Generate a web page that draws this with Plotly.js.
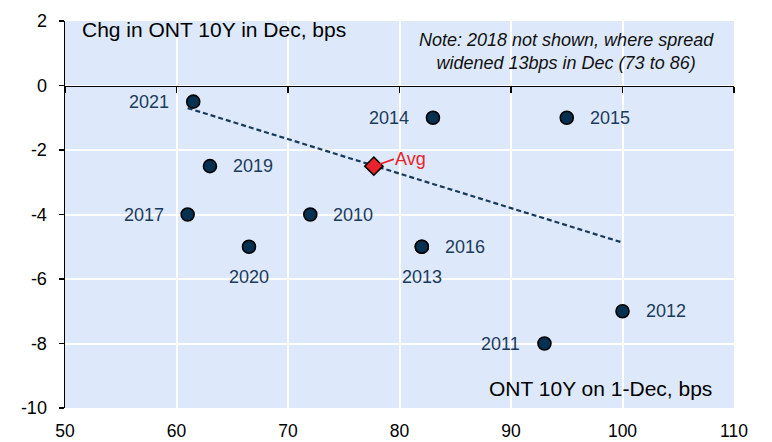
<!DOCTYPE html>
<html>
<head>
<meta charset="utf-8">
<script src="https://cdn.plot.ly/plotly-3.0.1.min.js"></script>
<style>html,body{margin:0;padding:0;background:#fff;}#chart{width:772px;height:442px;}</style>
</head>
<body>
<div id="chart"></div>
<script>
// ---- data ----
const years = ['2021', '2014', '2015', '2019', '2017', '2010', '2020', '2016', '2013', '2012', '2011'];
const ont10yDec1 = [61.5, 83, 95, 63, 61, 72, 66.5, 82, 82, 100, 93];
const chgInDec = [-0.5, -1, -1, -2.5, -4, -4, -5, -5, -5, -7, -8];
const avgX = [77.7];
const avgY = [-2.5];
const avgLabel = ['Avg'];
const trendX = [61, 100];
const trendY = [-0.7, -4.87];
const xTickVals = [50, 60, 70, 80, 90, 100, 110];
const xTickText = ['50', '60', '70', '80', '90', '100', '110'];
const yTickVals = [2, 0, -2, -4, -6, -8, -10];
const yTickText = ['2', '0', '-2', '-4', '-6', '-8', '-10'];

// ---- label placement (style, not data) ----
const labelPlace = {
  '2021': 'left', '2014': 'left', '2015': 'right', '2019': 'right',
  '2017': 'left', '2010': 'right', '2020': 'below', '2016': 'right',
  '2013': 'below', '2012': 'right', '2011': 'left'
};

const FONT = 'Liberation Sans, Arial, sans-serif';
const NAVY = '#1b3a5c';

const traces = [
  {
    x: trendX, y: trendY, type: 'scatter', mode: 'lines',
    line: {color: '#173a5c', width: 2.2, dash: '5px,3px'},
    hoverinfo: 'skip', showlegend: false
  },
  {
    x: ont10yDec1, y: chgInDec, type: 'scatter', mode: 'markers',
    marker: {size: 13, color: '#06304f', line: {color: '#000', width: 1.6}},
    showlegend: false
  },
  {
    x: avgX, y: avgY, type: 'scatter', mode: 'markers',
    marker: {size: 14, symbol: 'diamond', color: '#e8222a', line: {color: '#000', width: 1.6}},
    showlegend: false
  },
  {
    x: [null], y: [null], xaxis: 'x2', type: 'scatter', mode: 'markers',
    hoverinfo: 'skip', showlegend: false
  }
];

const annotations = years.map((yr, i) => {
  const p = labelPlace[yr];
  const a = {
    x: ont10yDec1[i], y: chgInDec[i], xref: 'x', yref: 'y', text: yr,
    showarrow: false, font: {family: FONT, size: 18, color: NAVY},
    yanchor: 'middle'
  };
  if (p === 'left') { a.xanchor = 'right'; a.xshift = -22; }
  else if (p === 'right') { a.xanchor = 'left'; a.xshift = 21; }
  else { a.xanchor = 'center'; a.yshift = -30; }
  return a;
});

annotations.push({
  x: avgX[0], y: avgY[0], xref: 'x', yref: 'y', text: avgLabel[0],
  showarrow: true, arrowhead: 0, arrowwidth: 1.6, arrowcolor: '#e8222a',
  ax: 20, ay: -7, xanchor: 'left', yanchor: 'middle', standoff: 6, borderpad: 0,
  font: {family: FONT, size: 18, color: '#e8222a'}
});

annotations.push({
  xref: 'paper', yref: 'paper', x: 0.022, y: 0.977, xanchor: 'left', yanchor: 'middle',
  text: 'Chg in ONT 10Y in Dec, bps', showarrow: false,
  font: {family: FONT, size: 21, color: '#000'}
});
annotations.push({
  xref: 'paper', yref: 'paper', x: 0.75, y: 0.92, xanchor: 'center', yanchor: 'middle',
  align: 'center',
  text: '<i>Note: 2018 not shown, where spread<br>widened 13bps in Dec (73 to 86)</i>', showarrow: false,
  font: {family: FONT, size: 18, color: '#111'}
});
annotations.push({
  xref: 'paper', yref: 'paper', x: 0.97, y: 0.05, xanchor: 'right', yanchor: 'middle',
  text: 'ONT 10Y on 1-Dec, bps', showarrow: false,
  font: {family: FONT, size: 21, color: '#000'}
});

const layout = {
  width: 772, height: 442,
  margin: {l: 65, r: 38, t: 21, b: 34, pad: 0},
  paper_bgcolor: '#ffffff',
  plot_bgcolor: '#dde9fa',
  font: {family: FONT, size: 18, color: '#000'},
  showlegend: false,
  xaxis: {
    range: [50, 110], tickmode: 'array', tickvals: xTickVals, ticktext: xTickText,
    showline: false, ticks: '', zeroline: false,
    showgrid: true, gridcolor: '#ffffff', gridwidth: 2,
    tickfont: {family: FONT, size: 17.5, color: '#000'},
    ticklabelstandoff: 10, fixedrange: true
  },
  xaxis2: {
    range: [50, 110], overlaying: 'x', anchor: 'free', position: 10 / 12, side: 'bottom',
    tickmode: 'array', tickvals: xTickVals, showticklabels: false,
    showline: true, linecolor: '#000', linewidth: 1.5,
    ticks: 'outside', ticklen: 6, tickwidth: 1.5, tickcolor: '#000',
    showgrid: false, zeroline: false
  },
  yaxis: {
    range: [-10, 2], tickmode: 'array', tickvals: yTickVals, ticktext: yTickText,
    showline: true, linecolor: '#000', linewidth: 1.5,
    ticks: 'outside', ticklen: 5, tickwidth: 1.5, tickcolor: '#000',
    showgrid: true, gridcolor: '#ffffff', gridwidth: 2, zeroline: false,
    tickfont: {family: FONT, size: 18, color: '#000'},
    ticklabelstandoff: 8, fixedrange: true
  },
  annotations: annotations
};

Plotly.newPlot('chart', traces, layout, {staticPlot: true, displayModeBar: false});
</script>
</body>
</html>
